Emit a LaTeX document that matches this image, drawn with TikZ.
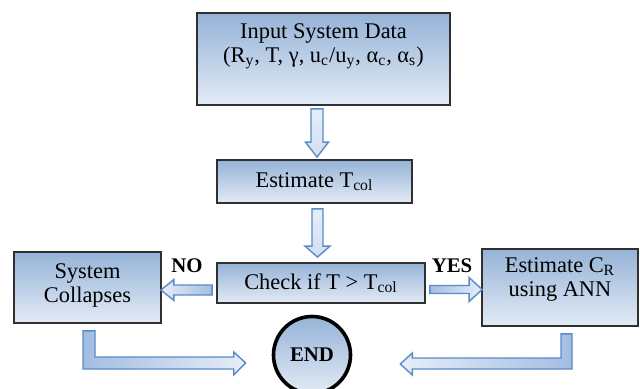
\documentclass[tikz,border=0pt]{standalone}
\usepackage{fontspec}
\setmainfont{Liberation Serif}
\usetikzlibrary{calc}

\definecolor{boxtop}{HTML}{95B3D7}
\definecolor{boxbot}{HTML}{E3EBF6}
\definecolor{boxline}{HTML}{303030}
\definecolor{arrowline}{HTML}{5B8AC6}
\definecolor{arrowdark}{HTML}{A3BDE2}
\definecolor{arrowlight}{HTML}{E6EEF8}

\tikzset{
  box/.style={rectangle, draw=boxline, line width=0.9pt, top color=boxtop, bottom color=boxbot, inner sep=0pt},
  txt/.style={align=center, font=\fontsize{11.2}{12}\selectfont, inner sep=0pt},
  tag/.style={font=\fontsize{10.4}{12}\selectfont\bfseries, inner sep=0pt},
  blk/.style={draw=arrowline, line width=0.7pt, line join=miter},
  blkr/.style={blk, left color=arrowdark, right color=arrowlight},
  blkl/.style={blk, left color=arrowlight, right color=arrowdark},
  blkv/.style={blk, top color=arrowlight, bottom color=arrowlight!70!arrowdark},
}

\begin{document}
\begin{tikzpicture}[x=0.5pt,y=-0.5pt]
\useasboundingbox (0,0) rectangle (640,389);

% boxes
\node[box, minimum width=126.5pt, minimum height=46pt] (inp) at (323.5,59) {};
\node[txt] (inptxt) at (323.5,46) {Input System Data\\(R\textsubscript{y}, T, γ, u\textsubscript{c}/u\textsubscript{y}, α\textsubscript{c}, α\textsubscript{s})};

\node[box, txt, minimum width=97.5pt, minimum height=21.5pt] (tcol) at (314.5,181.5) {Estimate T\textsubscript{col}};

\node[box, txt, minimum width=104pt, minimum height=20pt] (chk) at (321,283) {Check if T > T\textsubscript{col}};

\node[box, minimum width=73.5pt, minimum height=35.5pt] (sys) at (87.5,287.5) {};
\node[txt] (systxt) at (87.5,285) {System\\Collapses};

\node[box, minimum width=78pt, minimum height=38.5pt] (ann) at (560,287.5) {};
\node[txt] (anntxt) at (560,279) {Estimate C\textsubscript{R}\\using ANN};

\node[circle, draw=black, line width=1.8pt, top color=boxtop, bottom color=boxbot,
      minimum size=38.5pt, inner sep=0pt, tag] (end) at (312,355) {END};

% branch labels
\node[tag] (no) at (187,266) {NO};
\node[tag] (yes) at (452,266) {YES};

% block arrows
\path[blkv] let \p1=(inp.south), \p2=(tcol.north) in
  (\x2-1.75pt,\y1-1.5pt) -- (\x2+4.25pt,\y1-1.5pt) -- (\x2+4.25pt,\y2+8.5pt) -- (\x2+7pt,\y2+8.5pt)
  -- (\x2+1.25pt,\y2+1pt) -- (\x2-4.5pt,\y2+8.5pt) -- (\x2-1.75pt,\y2+8.5pt) -- cycle;

\path[blkv] let \p1=(tcol.south), \p2=(chk.north) in
  (\x1-1.25pt,\y1-2.5pt) -- (\x1+4.25pt,\y1-2.5pt) -- (\x1+4.25pt,\y2+8pt) -- (\x1+7.75pt,\y2+8pt)
  -- (\x1+1.5pt,\y2+2.5pt) -- (\x1-4.75pt,\y2+8pt) -- (\x1-1.25pt,\y2+8pt) -- cycle;

\path[blkl] let \p1=(chk.west), \p2=(sys.east) in
  (\x1-2pt,\y1-1pt) -- (\x2+6pt,\y1-1pt) -- (\x2+6pt,\y1+1.75pt) -- (\x2-0.5pt,\y1-3.5pt)
  -- (\x2+6pt,\y1-8.75pt) -- (\x2+6pt,\y1-6pt) -- (\x1-2pt,\y1-6pt) -- cycle;

\path[blkr] let \p1=(chk.east), \p2=(ann.west) in
  (\x1+2pt,\y1-1.25pt) -- (\x2-6pt,\y1-1.25pt) -- (\x2-6pt,\y1+2.75pt) -- (\x2+0.5pt,\y1-3.25pt)
  -- (\x2-6pt,\y1-9.25pt) -- (\x2-6pt,\y1-5.25pt) -- (\x1+2pt,\y1-5.25pt) -- cycle;

\path[blkr] let \p1=(sys.south), \p2=(end.west) in
  (\x1-2.25pt,\y1-3.5pt) -- (\x1+3.75pt,\y1-3.5pt) -- (\x1+3.75pt,\y2-1pt) -- (\x2-19pt,\y2-1pt)
  -- (\x2-19pt,\y2+1.5pt) -- (\x2-13pt,\y2-4pt) -- (\x2-19pt,\y2-10pt) -- (\x2-19pt,\y2-7pt)
  -- (\x1-2.25pt,\y2-7pt) -- cycle;

\path[blkl] let \p1=(ann.south), \p2=(end.east) in
  (\x1+6pt,\y1-3.5pt) -- (\x1+0.5pt,\y1-3.5pt) -- (\x1+0.5pt,\y2-1.5pt) -- (\x2+30pt,\y2-1.5pt)
  -- (\x2+30pt,\y2+1pt) -- (\x2+24pt,\y2-4.5pt) -- (\x2+30pt,\y2-10pt) -- (\x2+30pt,\y2-7pt)
  -- (\x1+6pt,\y2-7pt) -- cycle;
\end{tikzpicture}
\end{document}
